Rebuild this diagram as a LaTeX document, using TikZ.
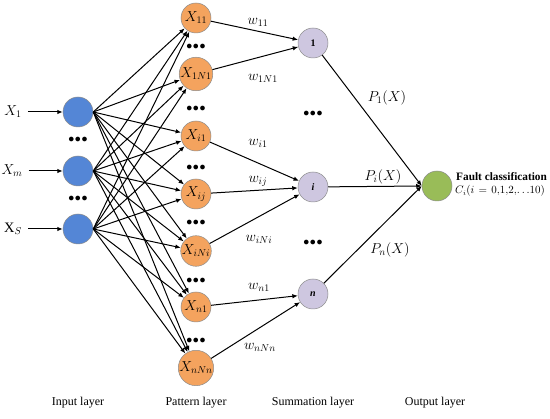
\documentclass[tikz,border=0pt]{standalone}
\usepackage{fontspec}
\setmainfont{Liberation Serif}
\usetikzlibrary{arrows.meta}
\definecolor{inblue}{RGB}{84,134,214}
\definecolor{patorange}{RGB}{244,163,94}
\definecolor{sumpurple}{RGB}{206,199,224}
\definecolor{outgreen}{RGB}{153,188,88}

\begin{document}
\begin{tikzpicture}[x=1pt,y=-1pt,
    neuron/.style={circle, draw=black!45, line width=0.5pt, minimum size=30pt, inner sep=0pt},
    inp/.style={neuron, fill=inblue},
    pat/.style={neuron, fill=patorange, font=\Large},
    sumn/.style={neuron, fill=sumpurple, font=\normalsize\bfseries},
    outn/.style={neuron, fill=outgreen},
    arr/.style={-{Latex[length=5.5pt,width=4.5pt]}, line width=1pt},
    vdots/.style={font=\large, inner sep=0pt},
    lbl/.style={font=\Large, inner sep=1pt},
    layer/.style={font=\large}]
  \useasboundingbox (0,0) rectangle (550,419);

  % input layer
  \node[inp] (in1) at (78,112) {};
  \node[inp] (inm) at (78,171) {};
  \node[inp] (inS) at (78,229) {};
  \node[vdots] at (78,140) {$\bullet\!\bullet\!\bullet$};
  \node[vdots] at (78,199) {$\bullet\!\bullet\!\bullet$};

  \node[lbl] (x1) at (13,112) {$X_1$};
  \node[lbl] (xm) at (12,171) {$X_m$};
  \node[lbl] (xS) at (13,229) {$\mathrm{X}_S$};
  \draw[arr] (x1.east) ++(5,0) -- (in1.west);
  \draw[arr] (xm.east) ++(5,0) -- (inm.west);
  \draw[arr] (xS.east) ++(5,0) -- (inS.west);

  % pattern layer
  \node[pat] (p11) at (196,18)  {$X_{11}$};
  \node[pat] (p1N) at (196,74)  {$X_{1N1}$};
  \node[pat] (pi1) at (196,136) {$X_{i1}$};
  \node[pat] (pij) at (196,194) {$X_{ij}$};
  \node[pat] (piN) at (196,251) {$X_{iNi}$};
  \node[pat] (pn1) at (196,307) {$X_{n1}$};
  \node[pat] (pnN) at (196,368) {$X_{nNn}$};
  \foreach \y in {47,109,168,223,281,341}
    \node[vdots] at (196,\y) {$\bullet\!\bullet\!\bullet$};

  % summation layer
  \node[sumn] (s1) at (313,43)  {1};
  \node[sumn] (si) at (313,187) {\itshape i};
  \node[sumn] (sn) at (313,294) {\itshape n};
  \node[vdots] at (313,114) {$\bullet\!\bullet\!\bullet$};
  \node[vdots] at (313,243) {$\bullet\!\bullet\!\bullet$};

  % output layer
  \node[outn] (out) at (437,186) {};

  % connections
  \foreach \a in {in1,inm,inS}
    \foreach \b in {p11,p1N,pi1,pij,piN,pn1,pnN}
      \draw[arr] (\a.east) -- (\b);
  \foreach \a/\b in {p11/s1,p1N/s1,pi1/si,pij/si,piN/si,pn1/sn,pnN/sn}
    \draw[arr] (\a) -- (\b);
  \foreach \a in {s1,si,sn}
    \draw[arr] (\a) -- (out.west);

  % weights
  \node[lbl] at (258,22)  {$w_{11}$};
  \node[lbl] at (263,78)  {$w_{1N1}$};
  \node[lbl] at (258,143) {$w_{i1}$};
  \node[lbl] at (258,181) {$w_{ij}$};
  \node[lbl] at (259,239) {$w_{iNi}$};
  \node[lbl] at (259,287) {$w_{n1}$};
  \node[lbl] at (260,347) {$w_{nNn}$};

  \node[lbl] at (387,98)  {$P_1(X)$};
  \node[lbl] at (383,177) {$P_i(X)$};
  \node[lbl] at (390,250) {$P_n(X)$};

  \node[anchor=west, font=\fontsize{11.3}{13}\selectfont\bfseries, inner sep=0pt] at (456,177) {Fault classification};
  \node[anchor=west, font=\fontsize{10.5}{12}\selectfont, inner sep=0pt] at (455,191)
    {$C_i(i\mskip2mu=\mskip2mu0,\!1,\!2,\!\ldots\!10)$};

  % layer names
  \node[layer] at (78,403)  {Input layer};
  \node[layer] at (196,403) {Pattern layer};
  \node[layer] at (313,403) {Summation layer};
  \node[layer] at (435,403) {Output layer};
\end{tikzpicture}
\end{document}
